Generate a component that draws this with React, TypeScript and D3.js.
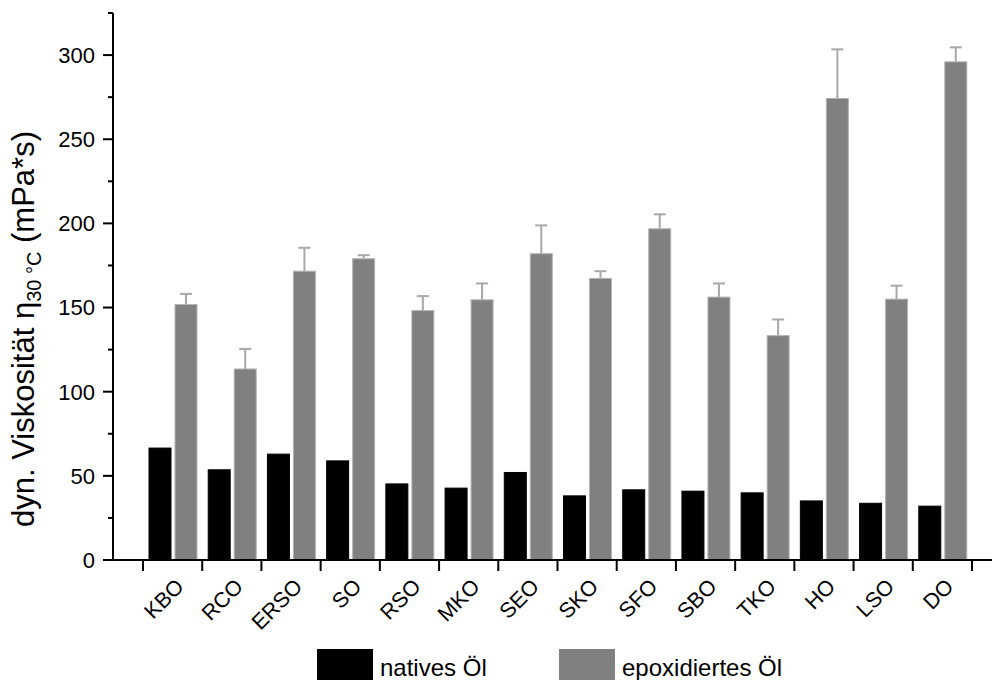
import React from "react";
import * as d3 from "d3";

// Oil abbreviations
const categories = ["KBO", "RCO", "ERSO", "SO", "RSO", "MKO", "SEO", "SKO", "SFO", "SBO", "TKO", "HO", "LSO", "DO"];

// Dynamic viscosity at 30 °C (mPa*s)
const nativeValues = [66.5, 53.6, 62.9, 58.9, 45.2, 42.7, 52.0, 38.1, 41.7, 40.9, 39.9, 35.1, 33.7, 32.0];
const epoxValues = [151.8, 113.5, 171.6, 179.0, 148.2, 154.6, 182.0, 167.3, 196.8, 156.2, 133.3, 274.2, 155.0, 296.0];
const epoxErrors = [6.3, 11.9, 13.9, 2.1, 8.6, 9.7, 16.8, 4.3, 8.6, 8.1, 9.6, 29.2, 8.0, 8.6];

const majorTicks = [0, 50, 100, 150, 200, 250, 300];
const minorTicks = [25, 75, 125, 175, 225, 275, 325];

const legendLabels = ["natives Öl", "epoxidiertes Öl"];

export default function App() {
  const width = 992;
  const height = 680;
  const font = "Liberation Sans, Arial, sans-serif";

  const y = d3.scaleLinear().domain([0, 325]).range([560, 13]);
  const x = d3.scaleBand<string>().domain(categories).range([143, 972]).paddingInner(0).paddingOuter(0);
  const bw = x.bandwidth();
  const barW = 22;

  const boundaries = d3.range(categories.length + 1).map((i) => 143 + i * bw);

  return (
    <svg
      width={width}
      height={height}
      style={{ position: "absolute", left: 0, top: 0, background: "#fff" }}
      fontFamily={font}
    >
      <rect x={0} y={0} width={width} height={height} fill="#fff" />

      {/* bars */}
      {categories.map((c, i) => {
        const x0 = x(c)!;
        const xb = x0 + 6;
        const xg = x0 + 6 + barW + 4;
        const yn = y(nativeValues[i]);
        const ye = y(epoxValues[i]);
        const yErr = y(epoxValues[i] + epoxErrors[i]);
        const cx = xg + barW / 2;
        return (
          <g key={c}>
            <rect x={xb} y={yn} width={barW} height={y(0) - yn} fill="#000" stroke="#000" strokeWidth={1} />
            <line x1={cx} x2={cx} y1={ye} y2={yErr} stroke="#a8a8a8" strokeWidth={2} />
            <line x1={cx - 6} x2={cx + 6} y1={yErr} y2={yErr} stroke="#a8a8a8" strokeWidth={2} />
            <rect x={xg} y={ye} width={barW} height={y(0) - ye} fill="#808080" stroke="#b4b4b4" strokeWidth={1} />
          </g>
        );
      })}

      {/* y axis */}
      <line x1={113} x2={113} y1={y(325)} y2={y(0) + 1} stroke="#000" strokeWidth={2} />
      {majorTicks.map((t) => (
        <g key={t}>
          <line x1={103} x2={113} y1={y(t)} y2={y(t)} stroke="#000" strokeWidth={2} />
          <text x={95} y={y(t)} dy="0.36em" textAnchor="end" fontSize={22} fill="#000">
            {t}
          </text>
        </g>
      ))}
      {minorTicks.map((t) => (
        <line key={t} x1={108} x2={113} y1={y(t)} y2={y(t)} stroke="#000" strokeWidth={2} />
      ))}

      {/* x axis */}
      <line x1={112} x2={992} y1={y(0)} y2={y(0)} stroke="#000" strokeWidth={2} />
      {boundaries.map((b, i) => (
        <line key={i} x1={b} x2={b} y1={y(0)} y2={y(0) + 11} stroke="#000" strokeWidth={2} />
      ))}
      {categories.map((c) => {
        const ax = x(c)! + bw / 2 + 12.5;
        const ay = 588;
        return (
          <text
            key={c}
            x={ax}
            y={ay}
            textAnchor="end"
            fontSize={21.5}
            fill="#000"
            transform={`rotate(-45 ${ax} ${ay})`}
          >
            {c}
          </text>
        );
      })}

      {/* y axis title */}
      <text transform="translate(34,527) rotate(-90)" fontSize={31} fill="#000" textAnchor="start">
        <tspan>dyn. Viskosität η</tspan>
        <tspan fontSize={20} dy={7}>30 °C</tspan>
        <tspan dy={-7}> (mPa*s)</tspan>
      </text>

      {/* legend */}
      <rect x={317} y={649} width={56} height={40} fill="#000" />
      <text x={380} y={676} fontSize={24} fill="#000">
        {legendLabels[0]}
      </text>
      <rect x={559} y={649} width={56} height={40} fill="#808080" />
      <text x={622} y={676} fontSize={24} fill="#000">
        {legendLabels[1]}
      </text>
    </svg>
  );
}
